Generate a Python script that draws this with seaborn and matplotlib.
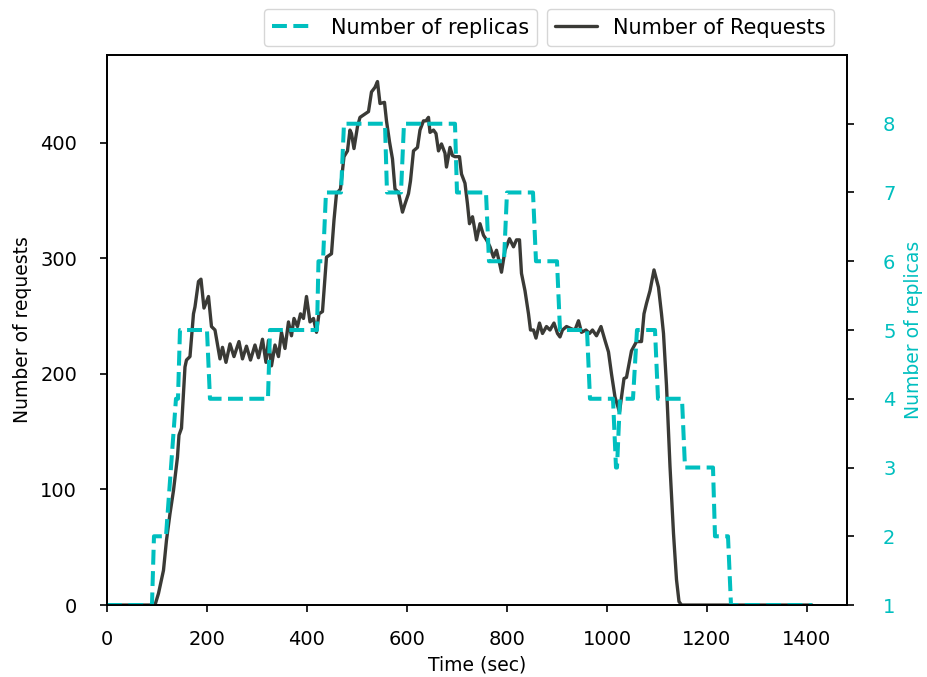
import numpy as np
import pandas as pd
import seaborn as sns
import matplotlib
matplotlib.use("Agg")
import matplotlib.pyplot as plt

# replica count over time (step changes)
replica_time = [0, 90, 94, 118, 138, 142, 146, 200, 206, 322, 326, 420, 423, 432, 438,
                468, 474, 556, 560, 588, 594, 696, 700, 758, 764, 794, 800, 852, 858,
                900, 906, 960, 966, 1012, 1018, 1020, 1026, 1052, 1060, 1096, 1102,
                1150, 1156, 1212, 1216, 1242, 1248, 1410]
replica_count = [1, 1, 2, 2, 4, 4, 5, 5, 4, 4, 5, 5, 6, 6, 7,
                 7, 8, 8, 7, 7, 8, 8, 7, 7, 6, 6, 7, 7, 6,
                 6, 5, 5, 4, 4, 3, 3, 4, 4, 5, 5, 4,
                 4, 3, 3, 2, 2, 1, 1]

# number of requests over time
request_time = [0, 96, 103, 113, 119, 126, 133, 141, 144, 149, 156, 159, 166, 173, 176,
                183, 188, 194, 203, 209, 216, 226, 231, 238, 246, 254, 264, 271, 279,
                287, 296, 303, 311, 318, 323, 329, 336, 343, 349, 356, 363, 369, 374,
                381, 387, 393, 399, 406, 413, 419, 424, 431, 439, 449, 454, 459, 467,
                474, 481, 486, 489, 494, 501, 506, 516, 523, 529, 536, 541, 546, 555,
                559, 565, 571, 576, 583, 591, 596, 603, 607, 613, 621, 626, 633, 638,
                643, 646, 653, 658, 663, 669, 676, 679, 686, 691, 696, 705, 709, 716,
                721, 725, 731, 736, 739, 746, 753, 759, 766, 773, 779, 784, 789, 796,
                805, 813, 819, 825, 829, 836, 843, 847, 853, 858, 865, 871, 879, 886,
                894, 901, 906, 911, 919, 929, 936, 943, 949, 958, 965, 971, 979, 988,
                996, 1003, 1009, 1016, 1025, 1031, 1034, 1039, 1049, 1059, 1069, 1074,
                1079, 1086, 1094, 1103, 1109, 1113, 1119, 1126, 1133, 1139, 1144, 1149,
                1410]
request_count = [0, 0, 10, 30, 56, 79, 99, 128, 147, 153, 206, 212, 215, 252, 258,
                 280, 282, 257, 267, 241, 238, 213, 223, 210, 226, 215, 228, 213, 224,
                 212, 225, 214, 230, 210, 229, 207, 225, 215, 236, 222, 245, 233, 248,
                 241, 252, 248, 267, 245, 248, 236, 252, 254, 301, 304, 333, 356, 360,
                 388, 393, 411, 408, 395, 414, 422, 425, 427, 444, 448, 453, 434, 435,
                 419, 401, 386, 360, 357, 340, 347, 356, 367, 393, 396, 411, 419, 419,
                 422, 409, 411, 408, 393, 399, 391, 379, 396, 389, 388, 388, 373, 365,
                 347, 330, 336, 324, 316, 330, 320, 316, 310, 301, 307, 298, 288, 307,
                 317, 310, 316, 316, 287, 272, 252, 238, 238, 231, 244, 235, 241, 238,
                 244, 235, 232, 238, 241, 239, 238, 246, 236, 238, 235, 238, 233, 241,
                 229, 219, 200, 180, 167, 186, 196, 197, 220, 228, 228, 252,
                 261, 272, 290, 275, 252, 235, 190, 120, 62, 22, 3, 0,
                 0]

replicas = pd.DataFrame({"time": replica_time, "replicas": replica_count})
requests = pd.DataFrame({"time": request_time, "requests": request_count})

sns.set_style("ticks")
plt.rcParams["font.family"] = ["DejaVu Sans"]
plt.rcParams["axes.edgecolor"] = "black"
plt.rcParams["text.color"] = "black"
plt.rcParams["axes.labelcolor"] = "black"
plt.rcParams["xtick.color"] = "black"
plt.rcParams["ytick.color"] = "black"

cyan = "#00bfbf"
dark = "#3a3a36"

fig = plt.figure(figsize=(9.27, 6.77), dpi=100)
ax = fig.add_axes([0.1154, 0.1063, 0.7983, 0.8125])
ax2 = ax.twinx()

sns.lineplot(data=requests, x="time", y="requests", ax=ax, color=dark,
             linewidth=2.4, label="Number of Requests")
sns.lineplot(data=replicas, x="time", y="replicas", ax=ax2, color=cyan,
             linewidth=2.9, linestyle="--", label="Number of replicas")

ax.set_xlim(0, 1480)
ax.set_ylim(0, 476)
ax2.set_ylim(1, 9)
ax.set_xticks([0, 200, 400, 600, 800, 1000, 1200, 1400])
ax.set_yticks([0, 100, 200, 300, 400])
ax2.set_yticks(range(1, 9))

ax.set_xlabel("Time (sec)", fontsize=13.5, labelpad=5)
ax.set_ylabel("Number of requests", fontsize=13.5, labelpad=6)
ax2.set_ylabel("Number of replicas", fontsize=13.5, color=cyan, labelpad=6)
ax.tick_params(axis="x", pad=13)
ax.tick_params(axis="y", pad=16.5)
ax2.tick_params(axis="y", pad=21, labelcolor=cyan)
for a in (ax, ax2):
    a.tick_params(labelsize=14, length=5, width=1.2, color="black")
    for s in a.spines.values():
        s.set_color("black")
        s.set_linewidth(1.3)

ax.legend(loc="lower right", bbox_to_anchor=(834 / 927, 1 - 46 / 677),
          bbox_transform=fig.transFigure, borderaxespad=0, fontsize=15)
ax2.legend(loc="lower right", bbox_to_anchor=(537 / 927, 1 - 46 / 677),
           bbox_transform=fig.transFigure, borderaxespad=0, fontsize=15)

fig.savefig("out.png", dpi=100)
